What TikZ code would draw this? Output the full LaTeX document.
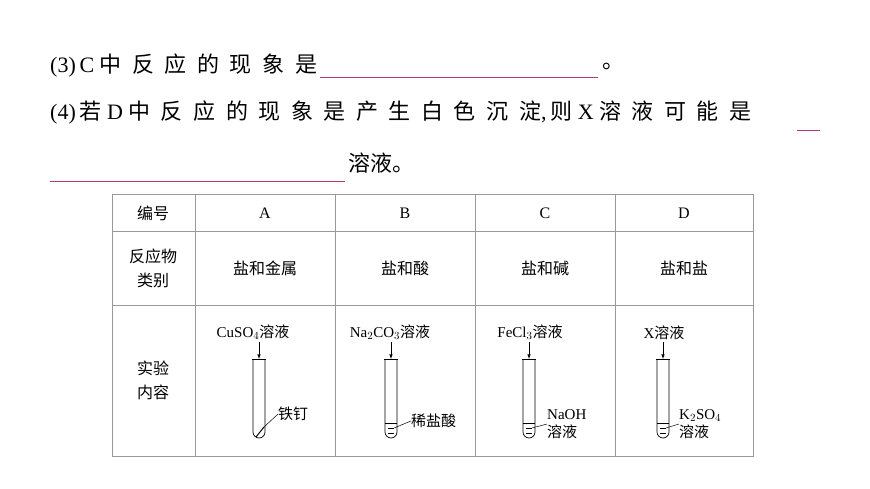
\documentclass[tikz,border=0pt]{standalone}
\usepackage{fontspec}
\setmainfont{Liberation Serif}
\newfontfamily\cjk{Noto Sans CJK SC}
\newfontfamily\cjkw[LetterSpace=48]{Noto Sans CJK SC}
\newcommand{\zh}[1]{{\cjk #1}}
\newcommand{\zw}[1]{{\cjkw #1}}
\begin{document}
\begin{tikzpicture}[x=1pt,y=-1pt,
  big/.style={font=\fontsize{22}{24}\selectfont,inner sep=0pt,anchor=west},
  cell/.style={font=\cjk\fontsize{16}{20}\selectfont,inner sep=0pt},
  lab/.style={font=\fontsize{15}{18}\selectfont,inner sep=0pt},
  grid/.style={draw=gray!80,line width=1pt},
  blank/.style={draw=magenta!70!black,line width=0.6pt},
  tube/.style={draw=black,line width=0.7pt}]
\useasboundingbox (0,0) rectangle (870,489);
\node[big] (q3) at (50,66) {(3)\,C\ \zw{中反应的现象是}};
\coordinate (b1a) at (320,77); \coordinate (b1b) at (598,77);
\draw[blank] (b1a) -- (b1b);
\node[big] (e3) at (602,66) {\zh{。}};
\node[big] (q4) at (50,113) {(4)\,\zw{若}\ D\ \zw{中反应的现象是产生白色沉淀},\,\zw{则}\ X\ \zw{溶液可能是}};
\coordinate (b2a) at (797,130); \coordinate (b2b) at (820,130);
\draw[blank] (b2a) -- (b2b);
\coordinate (b3a) at (50,181); \coordinate (b3b) at (345,181);
\draw[blank] (b3a) -- (b3b);
\node[big] (e4) at (348,163) {\zh{溶液。}};
% table
\draw[grid] (112,195) rectangle (753,456);
\foreach \y in {232,305} \draw[grid] (112,\y) -- (753,\y);
\foreach \x in {195,335,475,615} \draw[grid] (\x,195) -- (\x,456);
\node[cell] (h0) at (153,213) {编号};
\node[lab,font=\fontsize{16}{18}\selectfont] (hA) at (265,213) {A};
\node[lab,font=\fontsize{16}{18}\selectfont] (hB) at (405,213) {B};
\node[lab,font=\fontsize{16}{18}\selectfont] (hC) at (545,213) {C};
\node[lab,font=\fontsize{16}{18}\selectfont] (hD) at (684,213) {D};
\node[cell,align=center] (r1) at (153,268) {反应物\\[4pt]类别};
\node[cell] (r1A) at (265,268) {盐和金属};
\node[cell] (r1B) at (405,268) {盐和酸};
\node[cell] (r1C) at (545,268) {盐和碱};
\node[cell] (r1D) at (684,268) {盐和盐};
\node[cell,align=center] (r2) at (153,380) {实验\\[4pt]内容};
% tubes
\foreach \n/\x in {tA/259,tB/391,tC/529,tD/663}{
  \draw[tube] (\x-6,359) -- (\x-6,432) arc[start angle=180,end angle=0,radius=6] -- (\x+6,359);
  \draw[tube] (\x-7,359) -- (\x+7,359);
  \coordinate (\n) at (\x,359);
}
% labels
\node[lab,anchor=south] (lA) at (253,340) {CuSO$_4$\zh{溶液}};
\node[lab,anchor=south] (lB) at (390,340) {Na$_2$CO$_3$\zh{溶液}};
\node[lab,anchor=south] (lC) at (530,340) {FeCl$_3$\zh{溶液}};
\node[lab,anchor=south] (lD) at (664,340) {X\zh{溶液}};
\foreach \t/\x in {tA/259,tB/391,tC/529,tD/663}
  \draw[-latex,line width=0.6pt] (\x,342) -- (\t);
% nail in A
\draw[line width=1pt] (256,437) -- (264,427);
\node[cell,anchor=west,font=\cjk\fontsize{15}{18}\selectfont] (nail) at (278,414) {铁钉};
\draw[line width=0.5pt] (263,428) -- (nail.west);
% liquids
\foreach \x in {391,529,663}{
  \draw[line width=0.5pt] (\x-6,423) -- (\x+6,423);
  \draw[line width=0.5pt] (\x-3,428) -- (\x+3,428);
  \draw[line width=0.5pt] (\x-3,433) -- (\x+3,433);
}
\node[cell,anchor=west,font=\cjk\fontsize{15}{18}\selectfont] (acid) at (411,421) {稀盐酸};
\draw[line width=0.5pt] (394,428) -- (acid.west);
\node[lab,anchor=west,align=left] (naoh) at (547,424) {NaOH\\\zh{溶液}};
\draw[line width=0.5pt] (532,428) -- (547,424);
\node[lab,anchor=west,align=left] (k2) at (679,424) {K$_2$SO$_4$\\\zh{溶液}};
\draw[line width=0.5pt] (666,428) -- (679,424);
\end{tikzpicture}
\end{document}
